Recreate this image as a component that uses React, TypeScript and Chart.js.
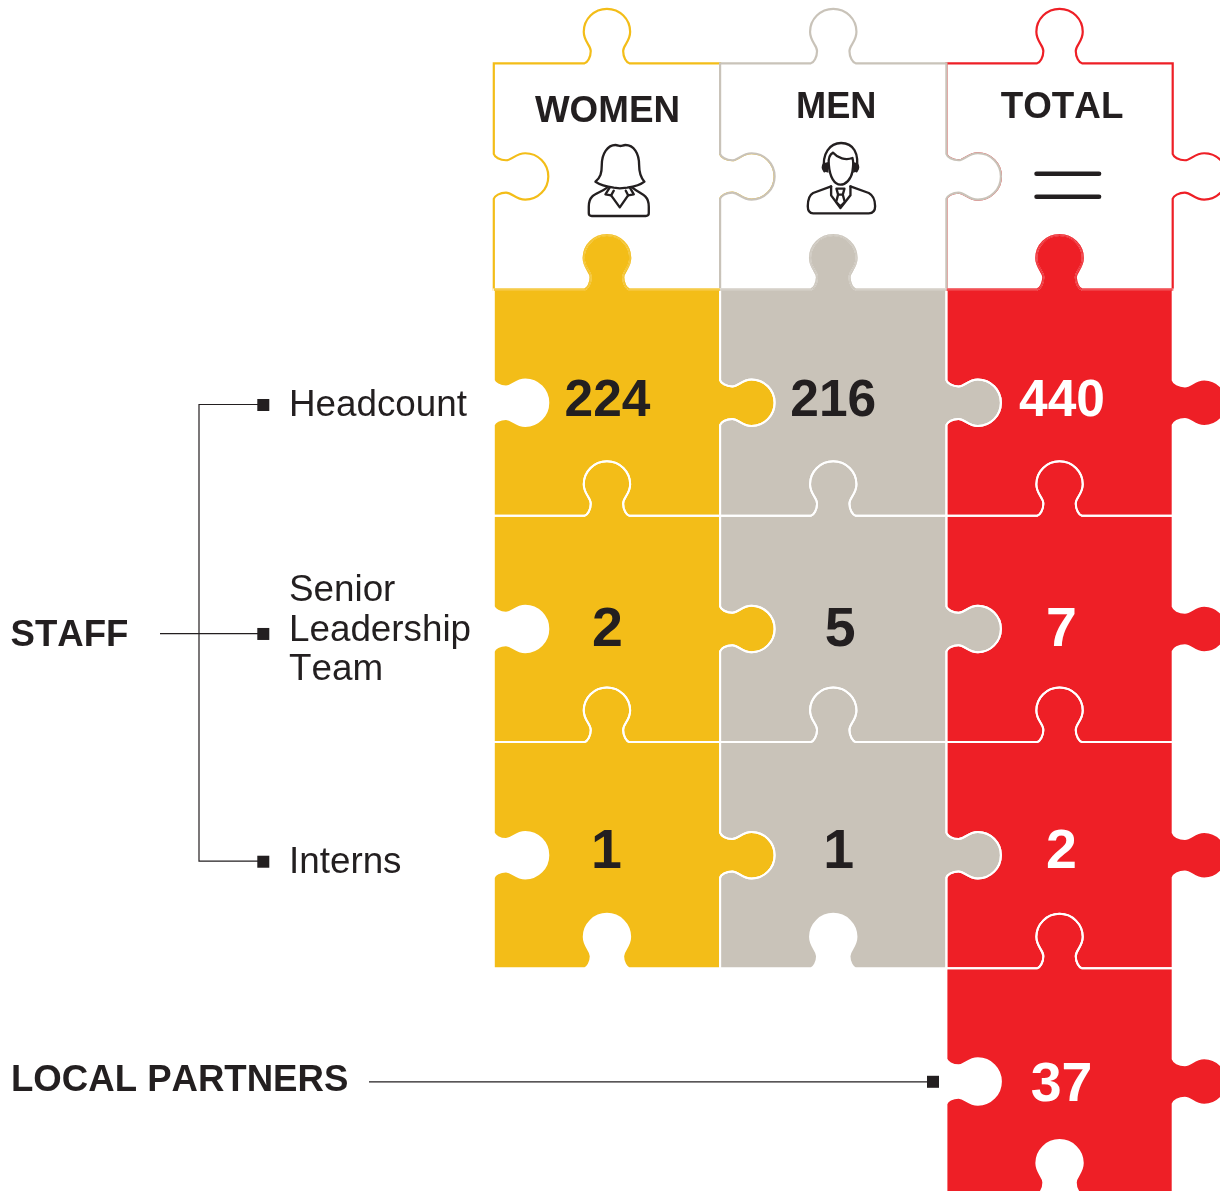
import React, { useEffect, useRef } from "react";
import { Chart, registerables } from "chart.js";

Chart.register(...registerables);

// ---- data ----
const columns = ["WOMEN", "MEN", "TOTAL"];
const rowGroups = ["Header", "Headcount", "Senior Leadership Team", "Interns", "Local Partners"];
const womenValues = [224, 2, 1];
const menValues = [216, 5, 1];
const totalValues = [440, 7, 2];
const localPartnersTotal = 37;
const staffLabel = "STAFF";
const partnersLabel = "LOCAL PARTNERS";
const rowLabelLines = [["Headcount"], ["Senior", "Leadership", "Team"], ["Interns"]];

// ---- style ----
const FONT = '"Liberation Sans", Arial, sans-serif';
const DARK = "#231F20";
const colColors = ["#F3BD18", "#C9C3B9", "#EE1F26"];
const valueColors = [DARK, DARK, "#FFFFFF"];
const drawOrder = [0, 2, 1];
const headerStyle = [
  { size: 36.8, dx: 0.5, base: 121.5 },
  { size: 36.2, dx: 3, base: 118 },
  { size: 36.8, dx: 2.5, base: 118 },
];
// per row, per column: x offset from the column centre
const valueDx = [
  [0.5, 0, 2.5],
  [0.5, 7, 2],
  [-0.5, 5.5, 2],
  [0, 0, 2],
];
const valueStyle = [
  { size: 51.5, base: 416 },
  { size: 55.5, base: 646 },
  { size: 55.5, base: 867.5 },
  { size: 55.5, base: 1101 },
];
const rowMarkDy = [2.3, 5, 6.5];
const rowTextBase = [[416], [600.5, 640.5, 680], [872.5]];

type Pt = [number, number];
// half a knob in local coordinates (u along the edge, h outward)
const H: [Pt, Pt, Pt][] = [
  [[-19.5, 0.8], [-16.2, 6], [-16.2, 12.2]],
  [[-16.2, 18.5], [-23.2, 21.5], [-23.2, 31.5]],
  [[-23.2, 44.2], [-12.8, 54.5], [0, 54.5]],
];
const BASE = 22.4;

function knob(ctx: any, map: (u: number, h: number) => Pt) {
  const p0 = map(-BASE, 0);
  ctx.lineTo(p0[0], p0[1]);
  for (const seg of H) {
    const a = map(seg[0][0], seg[0][1]);
    const b = map(seg[1][0], seg[1][1]);
    const c = map(seg[2][0], seg[2][1]);
    ctx.bezierCurveTo(a[0], a[1], b[0], b[1], c[0], c[1]);
  }
  for (let i = H.length - 1; i >= 0; i--) {
    const start = i > 0 ? H[i - 1][2] : ([-BASE, 0] as Pt);
    const a = map(-H[i][1][0], H[i][1][1]);
    const b = map(-H[i][0][0], H[i][0][1]);
    const c = map(-start[0], start[1]);
    ctx.bezierCurveTo(a[0], a[1], b[0], b[1], c[0], c[1]);
  }
}

function piecePath(ctx: any, l: number, t: number, r: number, b: number) {
  const cx = (l + r) / 2;
  const cy = (t + b) / 2;
  ctx.beginPath();
  ctx.moveTo(l, t);
  knob(ctx, (u, h) => [cx + u, t - h]);
  ctx.lineTo(r, t);
  knob(ctx, (u, h) => [r + h, cy + u]);
  ctx.lineTo(r, b);
  knob(ctx, (u, h) => [cx - u, b - h]);
  ctx.lineTo(l, b);
  knob(ctx, (u, h) => [l + h, cy - u]);
  ctx.closePath();
}

function topEdgePath(ctx: any, l: number, t: number, r: number) {
  const cx = (l + r) / 2;
  ctx.beginPath();
  ctx.moveTo(l, t);
  knob(ctx, (u, h) => [cx + u, t - h]);
  ctx.lineTo(r, t);
}

const WOMAN_ICON = [
  "M45,125 C60,112 64,100 64,75 C64,40 82,15 105,15 C112,15 115,18 120,18 C125,18 128,15 135,15 C160,15 176,40 176,75 C176,100 180,112 192,125 C180,135 160,140 140,143 L118,145 L100,143 C80,140 60,135 45,125 Z",
  "M80,143 C65,155 45,160 35,170 C27,178 25,188 25,200 L25,220 C25,226 28,228 34,228 L196,228 C202,228 205,226 205,220 L205,200 C205,188 203,178 195,170 C185,160 170,155 156,143",
  "M88,142 L75,163 L92,166 L100,152",
  "M148,142 L160,163 L143,166 L136,152",
  "M92,166 L118,202 L143,166",
];
const MAN_ICON = [
  "M72,100 C62,45 90,15 122,15 C158,15 178,45 168,100",
  "M85,80 C83,60 90,48 98,44 C112,60 135,68 156,60 C160,72 158,88 156,100 C152,125 135,140 120,140 C102,140 88,118 85,80 Z",
  "M92,145 L38,165 C25,172 22,188 22,205 C22,220 28,226 38,226 L205,226 C218,226 224,220 224,205 C224,188 218,172 205,165 L150,145",
  "M92,145 L92,172 L120,210 L150,172 L150,145",
  "M108,152 L132,152 L127,170 L133,192 L120,205 L107,192 L113,170 Z",
  "M113,170 L127,170",
];
const MAN_EARS = [
  "M68,76 C62,84 62,92 68,100 L84,104 L84,72 Z",
  "M172,76 C178,84 178,92 172,100 L158,104 L158,72 Z",
];

function drawIcon(ctx: any, paths: string[], x: number, y: number, filled: string[] = []) {
  ctx.save();
  ctx.translate(x, y);
  ctx.scale(1 / 3, 1 / 3);
  ctx.strokeStyle = DARK;
  ctx.fillStyle = DARK;
  ctx.lineWidth = 7;
  ctx.lineJoin = "round";
  ctx.lineCap = "round";
  for (const d of paths) ctx.stroke(new Path2D(d));
  for (const d of filled) ctx.fill(new Path2D(d));
  ctx.restore();
}

function barBox(chart: any, ds: number, col: number) {
  const el = chart.getDatasetMeta(ds).data[col];
  const p = el.getProps(["x", "y", "base", "width"], true);
  const t = Math.min(p.y, p.base);
  const b = Math.max(p.y, p.base);
  return { l: p.x - p.width / 2, r: p.x + p.width / 2, t, b, cx: p.x, cy: (t + b) / 2 };
}

function text(ctx: any, s: string, x: number, y: number, font: string, color: string, align: any = "left") {
  ctx.font = font;
  ctx.fontKerning = "none";
  ctx.fillStyle = color;
  ctx.textAlign = align;
  ctx.textBaseline = "alphabetic";
  ctx.fillText(s, x, y);
}

const puzzlePlugin = {
  id: "puzzle",
  afterDatasetsDraw(chart: any) {
    const ctx = chart.ctx;
    ctx.save();

    // header pieces: outlined
    for (const c of drawOrder) {
      const q = barBox(chart, 0, c);
      piecePath(ctx, q.l, q.t, q.r, q.b);
      ctx.fillStyle = "#FFFFFF";
      ctx.fill();
      ctx.strokeStyle = colColors[c];
      ctx.lineWidth = 2.2;
      ctx.lineJoin = "miter";
      ctx.stroke();
    }

    // coloured pieces
    for (let ds = 1; ds < rowGroups.length; ds++) {
      for (let c = 0; c < columns.length; c++) {
        const v = chart.data.datasets[ds].data[c];
        if (!v) continue;
        const q = barBox(chart, ds, c);
        piecePath(ctx, q.l, q.t, q.r, q.b);
        ctx.fillStyle = colColors[c];
        ctx.fill();
      }
    }
    for (let ds = rowGroups.length - 1; ds >= 1; ds--) {
      for (let c = 0; c < columns.length; c++) {
        const v = chart.data.datasets[ds].data[c];
        if (!v) continue;
        const q = barBox(chart, ds, c);
        piecePath(ctx, q.l, q.t, q.r, q.b);
        ctx.strokeStyle = "#FFFFFF";
        ctx.lineWidth = 2;
        ctx.stroke();
      }
    }

    // seam between the header and the first row
    for (const c of drawOrder) {
      const q = barBox(chart, 1, c);
      topEdgePath(ctx, q.l, q.t, q.r);
      ctx.strokeStyle = colColors[c];
      ctx.lineWidth = 2.2;
      ctx.stroke();
      ctx.strokeStyle = "rgba(255,255,255,0.4)";
      ctx.lineWidth = 0.6;
      ctx.stroke();
    }

    // column headers
    columns.forEach((name, c) => {
      const q = barBox(chart, 0, c);
      const st = headerStyle[c];
      text(ctx, name, q.cx + st.dx, st.base, `bold ${st.size}px ${FONT}`, DARK, "center");
    });
    const w = barBox(chart, 0, 0);
    const m = barBox(chart, 0, 1);
    const tt = barBox(chart, 0, 2);
    drawIcon(ctx, WOMAN_ICON, w.cx - 26.5, 140);
    drawIcon(ctx, MAN_ICON, m.cx - 32.8, 138, MAN_EARS);
    ctx.strokeStyle = DARK;
    ctx.lineWidth = 4.6;
    ctx.lineCap = "round";
    ctx.beginPath();
    ctx.moveTo(tt.cx - 23, 173.7);
    ctx.lineTo(tt.cx + 39.5, 173.7);
    ctx.moveTo(tt.cx - 23, 196.7);
    ctx.lineTo(tt.cx + 39.5, 196.7);
    ctx.stroke();
    ctx.lineCap = "butt";

    // values
    const cols = [womenValues, menValues, totalValues];
    cols.forEach((vals, c) => {
      vals.forEach((val, r) => {
        const q = barBox(chart, r + 1, c);
        const st = valueStyle[r];
        text(ctx, String(val), q.cx + valueDx[r][c], st.base, `bold ${st.size}px ${FONT}`, valueColors[c], "center");
      });
    });
    const lp = barBox(chart, 4, 2);
    text(ctx, String(localPartnersTotal), lp.cx + valueDx[3][2], valueStyle[3].base, `bold ${valueStyle[3].size}px ${FONT}`, valueColors[2], "center");

    // row labels & connectors
    ctx.strokeStyle = DARK;
    ctx.fillStyle = DARK;
    ctx.lineWidth = 1.2;
    const ys = rowLabelLines.map((_, r) => barBox(chart, r + 1, 0).cy + rowMarkDy[r]);
    ctx.beginPath();
    ctx.moveTo(258, ys[0] - 0.5);
    ctx.lineTo(199, ys[0] - 0.5);
    ctx.lineTo(199, ys[2] - 0.5);
    ctx.lineTo(258, ys[2] - 0.5);
    ctx.moveTo(160, ys[1] - 0.3);
    ctx.lineTo(258, ys[1] - 0.3);
    const lpY = lp.cy + 0.3;
    ctx.moveTo(369, lpY);
    ctx.lineTo(928, lpY);
    ctx.stroke();
    ys.forEach((y) => ctx.fillRect(257.3, y - 6, 12, 12));
    ctx.fillRect(927, lpY - 6, 12, 12);

    rowLabelLines.forEach((lines, r) => {
      lines.forEach((ln, i) => {
        text(ctx, ln, 289, rowTextBase[r][i], `36.8px ${FONT}`, DARK);
      });
    });
    text(ctx, staffLabel, 10.5, 645.5, `bold 36.6px ${FONT}`, DARK);
    text(ctx, partnersLabel, 11, 1091, `bold 36.6px ${FONT}`, DARK);

    ctx.restore();
  },
};

const rowSpan = (i: number): [number, number] => [i, i + 1];

export default function App() {
  const ref = useRef<HTMLCanvasElement | null>(null);
  useEffect(() => {
    if (!ref.current) return;
    const chart = new Chart(ref.current, {
      type: "bar",
      data: {
        labels: columns,
        datasets: rowGroups.map((name, i) => ({
          label: name,
          data: columns.map((_, c) => (i < 4 || c === 2 ? rowSpan(i) : null)),
          backgroundColor: "rgba(0,0,0,0)",
          borderWidth: 0,
          barPercentage: 1,
          categoryPercentage: 1,
        })),
      } as any,
      options: {
        animation: false,
        responsive: false,
        devicePixelRatio: 1,
        layout: { padding: { left: 493.8, right: 47.3, top: 63.3, bottom: 0 } },
        plugins: { legend: { display: false }, tooltip: { enabled: false } },
        scales: {
          x: { display: false, stacked: true, grid: { display: false } },
          y: { display: false, reverse: true, min: 0, max: 4.984, grid: { display: false } },
        },
      } as any,
      plugins: [puzzlePlugin as any],
    });
    return () => chart.destroy();
  }, []);
  return (
    <div style={{ position: "absolute", left: 0, top: 0, width: 1220, height: 1191, background: "#fff" }}>
      <canvas ref={ref} width={1220} height={1191} style={{ display: "block" }} />
    </div>
  );
}
